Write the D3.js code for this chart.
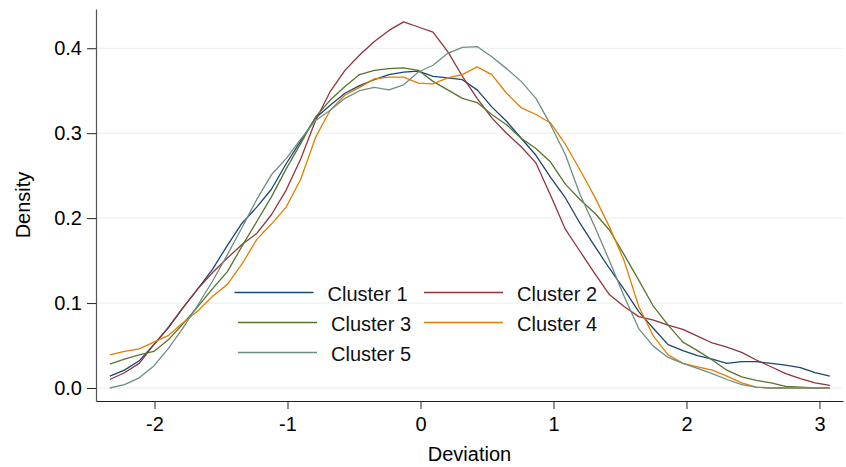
<!DOCTYPE html>
<html>
<head>
<meta charset="utf-8">
<script src="https://cdn.jsdelivr.net/npm/d3@7"></script>
<style>
  body { margin: 0; background: #fff; }
  svg text { font-family: "Liberation Sans", Arial, sans-serif; fill: #000; }
</style>
</head>
<body>
<div id="chart"></div>
<script>
// kernel density grid (deviation) and the five cluster curves
var deviation = [-2.336, -2.226, -2.115, -2.005, -1.894, -1.784, -1.673, -1.563, -1.452, -1.342,
    -1.231, -1.121, -1.010, -0.900, -0.789, -0.679, -0.568, -0.458, -0.347, -0.237,
    -0.127, -0.016, 0.094, 0.205, 0.315, 0.426, 0.536, 0.647, 0.757, 0.868,
    0.978, 1.089, 1.199, 1.310, 1.420, 1.531, 1.641, 1.752, 1.862, 1.973,
    2.083, 2.194, 2.304, 2.415, 2.525, 2.636, 2.746, 2.857, 2.967, 3.078];

var cluster1 = [0.014, 0.021, 0.032, 0.051, 0.071, 0.095, 0.117, 0.140, 0.168, 0.194,
    0.213, 0.234, 0.264, 0.291, 0.318, 0.333, 0.347, 0.356, 0.363, 0.369,
    0.372, 0.373, 0.367, 0.365, 0.363, 0.351, 0.331, 0.314, 0.294, 0.274,
    0.248, 0.224, 0.194, 0.167, 0.141, 0.116, 0.090, 0.070, 0.051, 0.044,
    0.038, 0.034, 0.029, 0.031, 0.031, 0.029, 0.027, 0.024, 0.018, 0.014];

var cluster2 = [0.010, 0.018, 0.029, 0.051, 0.072, 0.095, 0.117, 0.136, 0.153, 0.169,
    0.182, 0.204, 0.233, 0.270, 0.315, 0.349, 0.374, 0.392, 0.408, 0.421,
    0.431, 0.425, 0.419, 0.396, 0.367, 0.341, 0.318, 0.300, 0.284, 0.265,
    0.227, 0.187, 0.161, 0.135, 0.110, 0.096, 0.084, 0.080, 0.074, 0.069,
    0.061, 0.053, 0.048, 0.042, 0.033, 0.025, 0.017, 0.011, 0.006, 0.003];

var cluster3 = [0.028, 0.034, 0.039, 0.043, 0.057, 0.076, 0.096, 0.117, 0.137, 0.167,
    0.196, 0.225, 0.258, 0.288, 0.319, 0.339, 0.355, 0.369, 0.374, 0.376,
    0.377, 0.374, 0.361, 0.351, 0.341, 0.336, 0.322, 0.310, 0.294, 0.282,
    0.266, 0.240, 0.222, 0.206, 0.186, 0.157, 0.127, 0.096, 0.074, 0.054,
    0.044, 0.033, 0.021, 0.013, 0.009, 0.006, 0.002, 0.001, 0.000, 0.000];

var cluster4 = [0.039, 0.043, 0.046, 0.054, 0.062, 0.077, 0.091, 0.108, 0.122, 0.146,
    0.175, 0.193, 0.213, 0.246, 0.295, 0.327, 0.345, 0.354, 0.364, 0.366,
    0.366, 0.359, 0.358, 0.365, 0.369, 0.378, 0.369, 0.347, 0.330, 0.322,
    0.312, 0.287, 0.257, 0.225, 0.190, 0.150, 0.096, 0.061, 0.039, 0.029,
    0.025, 0.021, 0.014, 0.006, 0.001, 0.000, 0.000, 0.000, 0.000, 0.000];

var cluster5 = [0.000, 0.004, 0.012, 0.026, 0.047, 0.071, 0.098, 0.126, 0.157, 0.189,
    0.222, 0.251, 0.270, 0.293, 0.315, 0.327, 0.341, 0.350, 0.354, 0.351,
    0.357, 0.372, 0.380, 0.394, 0.401, 0.402, 0.390, 0.376, 0.361, 0.341,
    0.310, 0.275, 0.228, 0.190, 0.150, 0.108, 0.070, 0.049, 0.036, 0.029,
    0.023, 0.017, 0.010, 0.004, 0.001, 0.000, 0.000, 0.000, 0.000, 0.000];

var seriesNames = ["Cluster 1", "Cluster 2", "Cluster 3", "Cluster 4", "Cluster 5"];
var seriesColors = ["#1a476f", "#90353b", "#55752f", "#e37e00", "#6e8e84"];
var xTicks = [-2, -1, 0, 1, 2, 3];
var yTicks = [0.0, 0.1, 0.2, 0.3, 0.4];

var allSeries = [cluster1, cluster2, cluster3, cluster4, cluster5];

var margin = { top: 9, right: 3, bottom: 66, left: 96 },
    width = 846 - margin.left - margin.right,
    height = 467 - margin.top - margin.bottom;

var svg = d3.select("#chart")
    .append("svg")
    .attr("width", 846)
    .attr("height", 467)
    .append("g")
    .attr("transform", "translate(" + margin.left + "," + margin.top + ")");

var x = d3.scaleLinear()
    .domain([-2.440, 3.177])
    .range([0, width]);

var y = d3.scaleLinear()
    .domain([-0.0153, 0.4462])
    .range([height, 0]);

// gridlines
svg.append("g")
    .selectAll("line")
    .data(yTicks)
    .enter()
    .append("line")
    .attr("x1", 0)
    .attr("x2", width)
    .attr("y1", function (d) { return y(d); })
    .attr("y2", function (d) { return y(d); })
    .style("stroke", "#e6eef1")
    .style("stroke-width", 1);

// x axis
var xAxis = svg.append("g")
    .attr("transform", "translate(0," + height + ")")
    .call(d3.axisBottom(x).tickValues(xTicks).tickSize(8).tickPadding(8).tickSizeOuter(0)
        .tickFormat(d3.format("d")));

// y axis
var yAxis = svg.append("g")
    .call(d3.axisLeft(y).tickValues(yTicks).tickSize(9).tickPadding(5).tickSizeOuter(0)
        .tickFormat(d3.format(".1f")));

[xAxis, yAxis].forEach(function (a) {
    a.select(".domain").style("stroke", "#222").style("stroke-width", 1.2);
    a.selectAll(".tick line").style("stroke", "#222").style("stroke-width", 1);
    a.selectAll(".tick text").style("font-size", "20px").style("fill", "#000")
        .style("font-family", "'Liberation Sans', Arial, sans-serif");
});
yAxis.select(".domain").style("stroke", "#555");
// plain hyphen for negatives, like the reference
xAxis.selectAll(".tick text").text(function (d) { return String(d); });

// axis titles
svg.append("text")
    .attr("x", width / 2)
    .attr("y", height + 60)
    .attr("text-anchor", "middle")
    .style("font-size", "20px")
    .text("Deviation");

svg.append("text")
    .attr("transform", "rotate(-90)")
    .attr("x", -height / 2)
    .attr("y", -66)
    .attr("text-anchor", "middle")
    .style("font-size", "20px")
    .text("Density");

// density curves
var line = d3.line()
    .x(function (d, i) { return x(deviation[i]); })
    .y(function (d) { return y(d); });

svg.append("g")
    .selectAll("path")
    .data(allSeries)
    .enter()
    .append("path")
    .attr("d", function (d) { return line(d); })
    .style("fill", "none")
    .style("stroke", function (d, i) { return seriesColors[i]; })
    .style("stroke-width", 1.3)
    .style("stroke-linejoin", "round");

// legend, two columns (first key sits a little further left, as in the reference)
var legend = svg.append("g")
    .attr("transform", "translate(" + (238 - margin.left) + "," + (292.5 - margin.top) + ")");

var entry = legend.selectAll("g")
    .data(seriesNames)
    .enter()
    .append("g")
    .attr("transform", function (d, i) {
        var dx = (i % 2) * 186 - (i === 0 ? 3.5 : 0);
        return "translate(" + dx + "," + (Math.floor(i / 2) * 30) + ")";
    });

entry.append("line")
    .attr("x1", 0)
    .attr("x2", 79)
    .attr("y1", 0)
    .attr("y2", 0)
    .style("stroke", function (d, i) { return seriesColors[i]; })
    .style("stroke-width", 1.6);

entry.append("text")
    .attr("x", 93)
    .attr("y", 8.5)
    .style("font-size", "20px")
    .style("fill", "#111")
    .text(function (d) { return d; });
</script>
</body>
</html>
